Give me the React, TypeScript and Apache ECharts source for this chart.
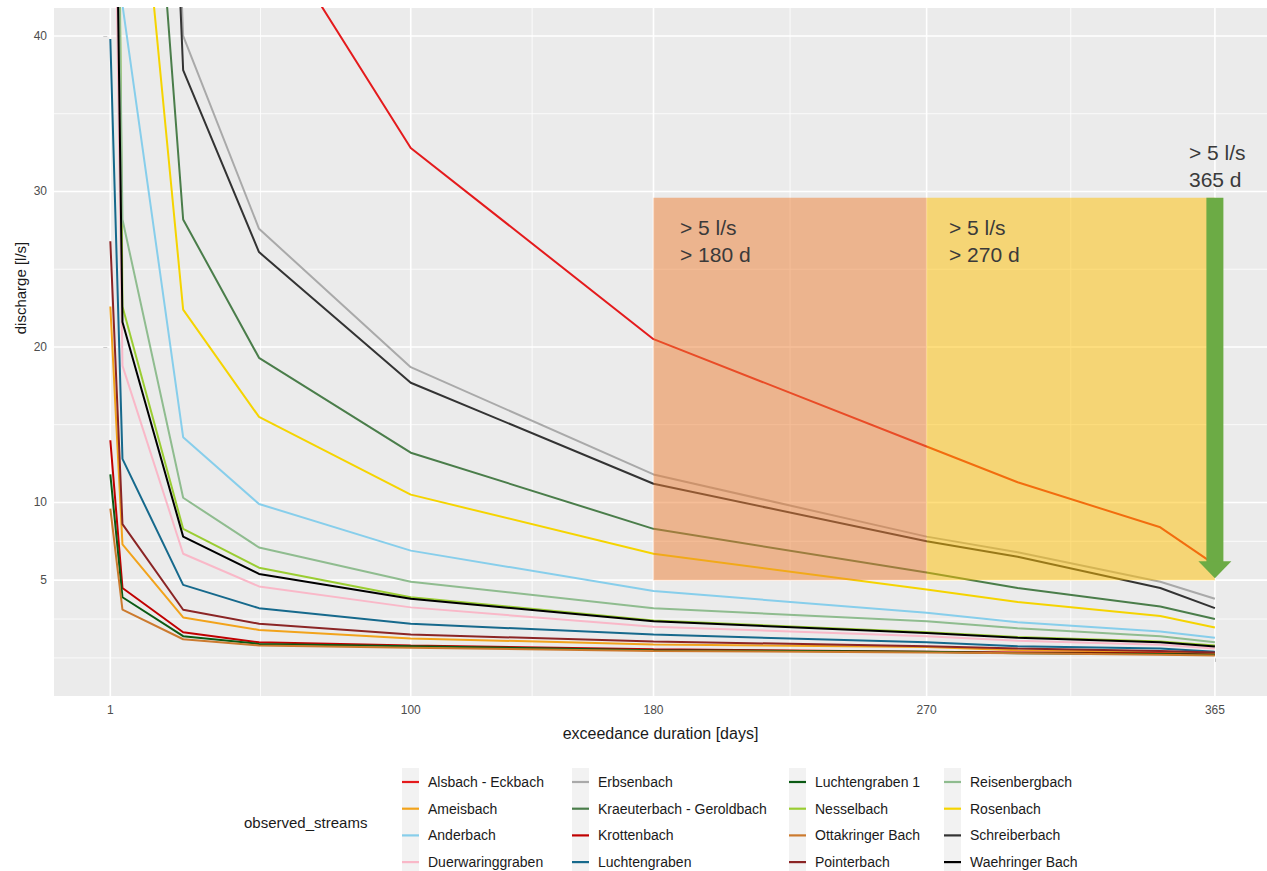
import React, { useEffect, useRef } from 'react';
import * as echarts from 'echarts';

// ---------- data ----------
const days = [1, 5, 25, 50, 100, 180, 270, 300, 347, 365];

const streamNames = [
  'Alsbach - Eckbach', 'Ameisbach', 'Anderbach', 'Duerwaringgraben',
  'Erbsenbach', 'Kraeuterbach - Geroldbach', 'Krottenbach', 'Luchtengraben',
  'Luchtengraben 1', 'Nesselbach', 'Ottakringer Bach', 'Pointerbach',
  'Reisenbergbach', 'Rosenbach', 'Schreiberbach', 'Waehringer Bach',
];

const alsbachEckbach = [300, 150, 80, 48.3, 32.8, 20.5, 13.6, 11.3, 8.4, 6.0];
const ameisbach = [22.6, 7.3, 2.6, 1.8, 1.25, 0.87, 0.7, 0.5, 0.4, 0.3];
const anderbach = [95, 42, 14.2, 9.9, 6.9, 4.3, 2.9, 2.3, 1.7, 1.3];
const duerwaringgraben = [70, 18.8, 6.7, 4.6, 3.25, 2.0, 1.4, 1.1, 0.85, 0.6];
const erbsenbach = [260, 140, 40.0, 27.6, 18.7, 11.8, 7.8, 6.8, 4.9, 3.8];
const kraeuterbachGeroldbach = [200, 80, 28.2, 19.3, 13.2, 8.3, 5.5, 4.5, 3.3, 2.5];
const krottenbach = [14.0, 4.5, 1.65, 1.0, 0.8, 0.55, 0.4, 0.35, 0.3, 0.2];
const luchtengraben = [39.8, 12.8, 4.7, 3.2, 2.2, 1.5, 1.0, 0.75, 0.6, 0.4];
const luchtengraben1 = [11.8, 3.9, 1.4, 0.9, 0.75, 0.5, 0.4, 0.3, 0.25, 0.2];
const nesselbach = [119, 22.6, 8.3, 5.8, 3.9, 2.4, 1.65, 1.35, 1.05, 0.8];
const ottakringerBach = [9.6, 3.1, 1.2, 0.8, 0.65, 0.45, 0.35, 0.3, 0.2, 0.15];
const pointerbach = [26.8, 8.6, 3.1, 2.2, 1.5, 1.06, 0.75, 0.6, 0.45, 0.35];
const reisenbergbach = [90, 28.2, 10.3, 7.1, 4.9, 3.2, 2.35, 1.9, 1.4, 1.0];
const rosenbach = [150, 63, 22.4, 15.5, 10.5, 6.7, 4.4, 3.6, 2.7, 1.96];
const schreiberbach = [240, 130, 37.8, 26.1, 17.7, 11.2, 7.5, 6.5, 4.5, 3.2];
const waehringerBach = [78, 21.6, 7.8, 5.4, 3.8, 2.35, 1.6, 1.3, 1.0, 0.74];

const streamValues = [
  alsbachEckbach, ameisbach, anderbach, duerwaringgraben,
  erbsenbach, kraeuterbachGeroldbach, krottenbach, luchtengraben,
  luchtengraben1, nesselbach, ottakringerBach, pointerbach,
  reisenbergbach, rosenbach, schreiberbach, waehringerBach,
];

const streamColors = [
  '#e41a1c', '#f2a31b', '#87ceeb', '#f9b8c8',
  '#a9a9a9', '#4a7d4a', '#c00000', '#16698c',
  '#0b5a14', '#9acd32', '#cc7a2e', '#8b2525',
  '#8fbc8f', '#f5d400', '#333333', '#000000',
];

const xTicks = [1, 100, 180, 270, 365];
const xMinorGrid = [50.5, 140, 225, 317.5];
const yTicks = [5, 10, 20, 30, 40];
const yMinorGrid = [0, 2.5, 7.5, 15, 25, 35];

// annotation bands: [fromDay, toDay, lowQ, highQ]
const bandFrom = [180, 270];
const bandTo = [270, 365];
const bandLow = 5;
const bandHigh = 29.6;
const bandColors = ['rgba(237,125,49,0.5)', 'rgba(255,192,0,0.5)'];
const arrowDay = 365;
const arrowTop = 29.6;
const arrowTip = 5.13;

const FONT = "'Liberation Sans', Arial, Helvetica, sans-serif";

export default function App() {
  const ref = useRef<HTMLDivElement>(null);

  useEffect(() => {
    if (!ref.current) return;
    const chart = echarts.init(ref.current, undefined, { renderer: 'svg' });

    const lineSeries = streamNames.map((name, i) => ({
      name,
      type: 'line',
      data: days.map((d, j) => [d, streamValues[i][j]]),
      showSymbol: false,
      symbol: 'none',
      clip: true,
      z: 2,
      lineStyle: { width: 2, color: streamColors[i] },
      itemStyle: { color: streamColors[i] },
      emphasis: { disabled: true },
    }));

    const hGrid = (vals: number[], width: number) => ({
      type: 'custom',
      silent: true,
      z: 1,
      data: vals.map((v) => [0, v]),
      renderItem: (params: any, api: any) => {
        const cs = params.coordSys;
        const y = api.coord([0, api.value(1)])[1];
        return {
          type: 'line',
          shape: { x1: cs.x, y1: y, x2: cs.x + cs.width, y2: y },
          style: { stroke: '#ffffff', lineWidth: width },
        };
      },
    });
    const vGrid = (vals: number[], width: number) => ({
      type: 'custom',
      silent: true,
      z: 1,
      data: vals.map((v) => [v, 0]),
      renderItem: (params: any, api: any) => {
        const cs = params.coordSys;
        const x = api.coord([api.value(0), 0])[0];
        return {
          type: 'line',
          shape: { x1: x, y1: cs.y, x2: x, y2: cs.y + cs.height },
          style: { stroke: '#ffffff', lineWidth: width },
        };
      },
    });

    const bandSeries = {
      type: 'custom',
      silent: true,
      z: 5,
      data: bandFrom.map((f, i) => [f, bandTo[i], bandLow, bandHigh]),
      renderItem: (params: any, api: any) => {
        const p0 = api.coord([api.value(0), api.value(3)]);
        const p1 = api.coord([api.value(1), api.value(2)]);
        return {
          type: 'rect',
          shape: { x: p0[0], y: p0[1], width: p1[0] - p0[0], height: p1[1] - p0[1] },
          style: { fill: bandColors[params.dataIndex] },
        };
      },
    };

    const arrowSeries = {
      type: 'custom',
      silent: true,
      z: 6,
      data: [[arrowDay, arrowTop, arrowTip]],
      renderItem: (params: any, api: any) => {
        const top = api.coord([api.value(0), api.value(1)]);
        const tip = api.coord([api.value(0), api.value(2)]);
        const headH = 17;
        const headHalf = 16.5;
        const shaftHalf = 8.5;
        return {
          type: 'group',
          children: [
            {
              type: 'rect',
              shape: { x: top[0] - shaftHalf, y: top[1], width: shaftHalf * 2, height: tip[1] - headH - top[1] + 1 },
              style: { fill: '#6cab45' },
            },
            {
              type: 'polygon',
              shape: { points: [[tip[0] - headHalf, tip[1] - headH], [tip[0] + headHalf, tip[1] - headH], [tip[0], tip[1]]] },
              style: { fill: '#6cab45' },
            },
          ],
        };
      },
    };

    const legendCols = [0, 1, 2, 3];
    const legendLeft = [402, 572, 789, 944];
    const legends = legendCols.map((c) => ({
      orient: 'vertical',
      left: legendLeft[c],
      top: 774,
      padding: 0,
      itemGap: 10.7,
      itemWidth: 17,
      itemHeight: 2.2,
      icon: 'rect',
      selectedMode: false,
      data: streamNames.slice(c * 4, c * 4 + 4),
      textStyle: { fontSize: 14, color: '#1a1a1a', fontFamily: FONT, lineHeight: 16, padding: [0, 0, 0, 4] },
    }));

    const graphic: any[] = [];
    legendLeft.forEach((lx) => {
      graphic.push({
        type: 'rect', z: 0, silent: true,
        shape: { x: lx, y: 768, width: 17, height: 110 },
        style: { fill: '#f2f2f2' },
      });
    });
    graphic.push(
      {
        type: 'text', z: 100, silent: true, x: 244, y: 822,
        style: { text: 'observed_streams', fontSize: 15, fill: '#1a1a1a', fontFamily: FONT, textVerticalAlign: 'middle' },
      },
      {
        type: 'text', z: 100, silent: true, x: 20, y: 288, rotation: Math.PI / 2,
        style: { text: 'discharge [l/s]', fontSize: 15, fill: '#1a1a1a', fontFamily: FONT, textAlign: 'center', textVerticalAlign: 'middle' },
      },
      {
        type: 'text', z: 100, silent: true, x: 680, y: 214,
        style: { text: '> 5 l/s\n> 180 d', fontSize: 21, lineHeight: 27, fill: '#3a3a3a', fontFamily: FONT },
      },
      {
        type: 'text', z: 100, silent: true, x: 949, y: 214,
        style: { text: '> 5 l/s\n> 270 d', fontSize: 21, lineHeight: 27, fill: '#3a3a3a', fontFamily: FONT },
      },
      {
        type: 'text', z: 100, silent: true, x: 1189, y: 139,
        style: { text: '> 5 l/s\n365 d', fontSize: 21, lineHeight: 27, fill: '#3a3a3a', fontFamily: FONT },
      },
    );

    chart.setOption({
      animation: false,
      backgroundColor: '#ffffff',
      textStyle: { fontFamily: FONT },
      grid: {
        left: 54, top: 8, width: 1213, height: 688,
        show: true, backgroundColor: '#ebebeb', borderWidth: 0,
      },
      xAxis: {
        type: 'value',
        min: -17.56,
        max: 382.17,
        name: 'exceedance duration [days]',
        nameLocation: 'middle',
        nameGap: 29,
        nameTextStyle: { fontSize: 16, color: '#1a1a1a', fontFamily: FONT },
        axisLine: { show: false },
        splitLine: { show: false },
        axisTick: { show: true, length: 4, lineStyle: { color: '#333333' }, customValues: xTicks },
        axisLabel: {
          fontSize: 12, color: '#4d4d4d', margin: 8, fontFamily: FONT,
          customValues: xTicks,
          formatter: (v: number) => (xTicks.includes(v) ? String(v) : ''),
        },
      },
      yAxis: {
        type: 'value',
        min: -2.45,
        max: 41.8,
        axisLine: { show: false },
        splitLine: { show: false },
        axisTick: { show: true, length: 4, lineStyle: { color: '#333333' }, customValues: yTicks },
        axisLabel: {
          fontSize: 12, color: '#4d4d4d', margin: 7, fontFamily: FONT,
          customValues: yTicks,
          formatter: (v: number) => (yTicks.includes(v) ? String(v) : ''),
        },
      },
      legend: legends,
      graphic,
      series: [
        hGrid(yMinorGrid, 0.8),
        vGrid(xMinorGrid, 0.8),
        hGrid(yTicks, 1.6),
        vGrid(xTicks, 1.6),
        ...lineSeries,
        bandSeries,
        arrowSeries,
      ],
    });

    return () => chart.dispose();
  }, []);

  return (
    <div
      ref={ref}
      style={{ position: 'absolute', left: 0, top: 0, width: 1267, height: 871 }}
    />
  );
}
